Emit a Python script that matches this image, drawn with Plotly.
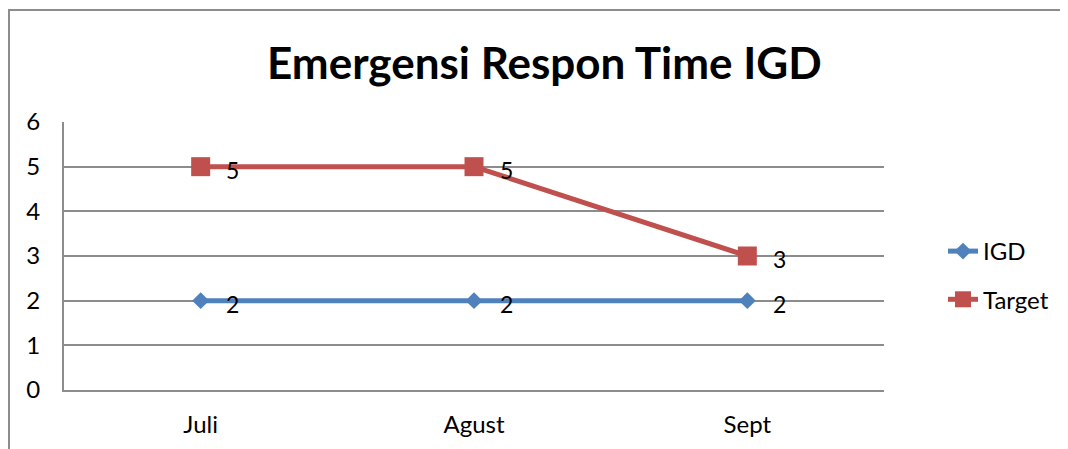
import plotly.graph_objects as go

categories = ["Juli", "Agust", "Sept"]
igd = [2, 2, 2]
target = [5, 5, 3]
y_ticks = [0, 1, 2, 3, 4, 5, 6]

FONT = "Lato"
BLUE = "#4F81BD"
RED = "#C0504D"
GRID = "#8C8C8C"

# figure is placed at (8, 8) in the page (default body margin)
W, H = 1060, 441
L, T, PW, PH = 56, 114, 820, 268


def px(fx):
    return (fx - L) / PW


def py(fy):
    return (T + PH - fy) / PH


fig = go.Figure()
fig.add_trace(go.Scatter(
    x=categories, y=igd, name="IGD", mode="lines+markers",
    line=dict(color=BLUE, width=5),
    marker=dict(symbol="diamond", size=13, color=BLUE),
    legendgroup="a",
))
fig.add_trace(go.Scatter(
    x=categories, y=target, name="Target", mode="lines+markers",
    line=dict(color=RED, width=5),
    marker=dict(symbol="square", size=19, color=RED),
    legendgroup="b",
))

annotations = []
for series in (igd, target):
    for c, v in zip(categories, series):
        annotations.append(dict(
            x=c, y=v, xref="x", yref="y", text=str(v), showarrow=False,
            xshift=32, yshift=-3, font=dict(family=FONT, size=23, color="black"),
        ))

annotations.append(dict(
    x=px(544 - 8), y=py(54), xref="paper", yref="paper",
    text="<b>Emergensi Respon Time IGD</b>", showarrow=False,
    xanchor="center", yanchor="middle",
    font=dict(family=FONT, size=44, color="black"),
))

fig.update_layout(
    width=W, height=H,
    margin=dict(l=L, r=W - L - PW, t=T, b=H - T - PH),
    paper_bgcolor="white", plot_bgcolor="white",
    font=dict(family=FONT, size=24, color="black"),
    showlegend=True,
    legend=dict(
        x=px(935), y=py(221), xanchor="left", yanchor="top",
        font=dict(family=FONT, size=24), tracegroupgap=14,
        bgcolor="rgba(0,0,0,0)",
    ),
    annotations=annotations,
    shapes=[dict(
        type="rect", xref="paper", yref="paper",
        x0=px(1), x1=px(1100), y0=py(480), y1=py(2),
        line=dict(color=GRID, width=2), layer="below",
    )],
)
fig.update_xaxes(
    type="category", range=[-0.5, 2.5], showgrid=False, automargin=False,
    showline=True, linecolor=GRID, linewidth=2,
    ticks="", ticklabelstandoff=12,
    tickfont=dict(family=FONT, size=24),
)
fig.update_yaxes(
    range=[0, 6], tickvals=y_ticks, showgrid=True, gridcolor=GRID, gridwidth=2,
    showline=True, linecolor=GRID, linewidth=2, zeroline=False, automargin=False,
    ticks="", ticklabelstandoff=17,
    tickfont=dict(family=FONT, size=24),
)

fig.write_html("out.html")
